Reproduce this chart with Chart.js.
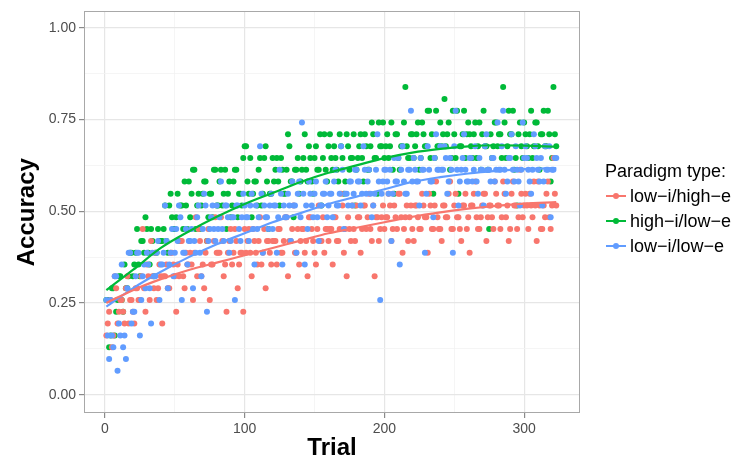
<!DOCTYPE html>
<html>
<head>
<meta charset="utf-8">
<script src="https://cdn.jsdelivr.net/npm/chart.js@4.4.1/dist/chart.umd.min.js"></script>
<style>
html,body{margin:0;padding:0;background:#fff;}
#wrap{width:747px;height:460px;}
</style>
</head>
<body>
<div id="wrap"><canvas id="c" width="747" height="460"></canvas></div>
<script>
// ---- data ----
const seriesNames = ["low\u2212i/high\u2212e", "high\u2212i/low\u2212e", "low\u2212i/low\u2212e"];
const seriesColors = ["#F8766D", "#00BA38", "#619CFF"];

const trialsOdd = [1,3,5,7,9,11,13,15,17,19,21,23,25,27,29,31,33,35,37,39,41,43,45,47,49,51,53,55,57,59,61,63,65,67,69,71,73,75,77,79,81,83,85,87,89,91,93,95,97,99,101,103,105,107,109,111,113,115,117,119,121,123,125,127,129,131,133,135,137,139,141,143,145,147,149,151,153,155,157,159,161,163,165,167,169,171,173,175,177,179,181,183,185,187,189,191,193,195,197,199,201,203,205,207,209,211,213,215,217,219,221,223,225,227,229,231,233,235,237,239,241,243,245,247,249,251,253,255,257,259,261,263,265,267,269,271,273,275,277,279,281,283,285,287,289,291,293,295,297,299,301,303,305,307,309,311,313,315,317,319,321,323];
const trialsEven = [2,4,6,8,10,12,14,16,18,20,22,24,26,28,30,32,34,36,38,40,42,44,46,48,50,52,54,56,58,60,62,64,66,68,70,72,74,76,78,80,82,84,86,88,90,92,94,96,98,100,102,104,106,108,110,112,114,116,118,120,122,124,126,128,130,132,134,136,138,140,142,144,146,148,150,152,154,156,158,160,162,164,166,168,170,172,174,176,178,180,182,184,186,188,190,192,194,196,198,200,202,204,206,208,210,212,214,216,218,220,222,224,226,228,230,232,234,236,238,240,242,244,246,248,250,252,254,256,258,260,262,264,266,268,270,272,274,276,278,280,282,284,286,288,290,292,294,296,298,300,302,304,306,308,310,312,314,316,318,320,322];

// low-i/high-e accuracy
const accLowIHighE_odd = [
.161,.226,.129,.323,.194,.258,.226,.290,.194,.258,
.194,.290,.258,.452,.226,.323,.419,.290,.258,.355,
.194,.323,.290,.387,.355,.226,.323,.419,.290,.355,
.387,.258,.484,.452,.323,.290,.419,.258,.355,.484,
.387,.484,.323,.226,.419,.355,.452,.290,.387,.226,
.387,.452,.323,.419,.355,.484,.387,.290,.419,.355,
.419,.355,.452,.387,.484,.323,.419,.516,.387,.355,
.452,.387,.323,.484,.419,.355,.516,.419,.387,.452,
.452,.355,.484,.419,.548,.387,.323,.452,.516,.419,
.484,.387,.516,.452,.548,.419,.323,.484,.452,.516,
.484,.548,.419,.516,.452,.548,.387,.484,.419,.516,
.419,.516,.452,.548,.484,.387,.516,.452,.581,.452,
.419,.516,.484,.581,.452,.548,.484,.419,.516,.452,
.387,.516,.581,.452,.484,.548,.419,.516,.484,.581,
.516,.452,.581,.484,.419,.548,.516,.452,.613,.484,
.548,.452,.516,.581,.419,.516,.452,.484,.581,.452,
.645,.516];
const accLowIHighE_even = [
.194,.258,.161,.290,.226,.258,.194,.323,.258,.226,
.290,.258,.323,.290,.355,.258,.323,.387,.290,.323,
.323,.355,.290,.387,.323,.355,.419,.323,.387,.355,
.355,.387,.323,.419,.355,.387,.452,.355,.419,.387,
.387,.419,.355,.387,.452,.387,.419,.355,.387,.452,
.419,.387,.452,.387,.419,.355,.452,.419,.387,.419,
.419,.452,.387,.419,.484,.419,.452,.387,.452,.419,
.452,.419,.484,.452,.387,.452,.419,.484,.452,.419,
.452,.484,.419,.452,.516,.452,.484,.419,.452,.516,
.484,.452,.516,.484,.452,.516,.484,.419,.484,.452,
.484,.516,.452,.484,.548,.484,.452,.516,.484,.452,
.516,.484,.452,.516,.484,.548,.452,.516,.484,.452,
.516,.484,.548,.452,.516,.484,.452,.516,.548,.484,
.516,.548,.484,.452,.516,.548,.484,.516,.452,.548,
.516,.484,.548,.516,.452,.581,.516,.484,.548,.516,
.516,.548,.484,.516,.581,.452,.516,.548,.484,.516,
.548];

// high-i/low-e accuracy
const accHighILowE_odd = [
.258,.129,.290,.161,.258,.323,.226,.290,.323,.387,
.355,.452,.323,.419,.484,.387,.452,.323,.387,.419,
.419,.516,.387,.548,.452,.484,.419,.516,.581,.452,
.484,.613,.452,.548,.516,.581,.419,.548,.484,.613,
.516,.613,.548,.452,.581,.516,.613,.484,.548,.645,
.677,.548,.484,.581,.516,.645,.548,.677,.452,.548,
.581,.645,.516,.613,.548,.710,.581,.484,.613,.548,
.613,.710,.581,.645,.548,.677,.613,.516,.710,.581,
.710,.613,.645,.581,.677,.548,.710,.613,.645,.516,
.645,.710,.581,.677,.613,.742,.645,.548,.677,.742,
.677,.645,.742,.548,.710,.613,.677,.839,.645,.710,
.645,.710,.613,.742,.677,.774,.645,.548,.774,.677,
.677,.806,.710,.613,.774,.645,.548,.677,.774,.710,
.710,.645,.742,.677,.613,.774,.677,.452,.645,.742,
.677,.710,.839,.645,.774,.710,.613,.516,.742,.645,
.710,.645,.774,.677,.742,.613,.710,.677,.774,.581,
.839,.677];
const accHighILowE_even = [
.258,.161,.290,.226,.323,.258,.355,.290,.387,.323,
.387,.355,.419,.387,.452,.355,.419,.387,.452,.419,
.452,.419,.516,.484,.452,.548,.516,.452,.516,.581,
.548,.613,.516,.452,.548,.581,.484,.548,.613,.516,
.581,.516,.613,.548,.484,.581,.613,.548,.516,.677,
.581,.645,.548,.581,.613,.516,.645,.581,.548,.645,
.613,.581,.645,.548,.613,.677,.581,.613,.645,.581,
.645,.613,.677,.581,.645,.613,.710,.645,.613,.677,
.645,.677,.613,.710,.645,.581,.677,.645,.710,.613,
.677,.645,.710,.613,.677,.710,.645,.742,.677,.645,
.710,.677,.613,.710,.645,.677,.742,.677,.645,.710,
.677,.742,.645,.710,.677,.774,.710,.645,.677,.742,
.710,.677,.742,.645,.710,.774,.677,.710,.645,.742,
.677,.710,.645,.742,.710,.677,.613,.710,.677,.742,
.710,.645,.742,.677,.710,.774,.645,.710,.677,.742,
.677,.710,.645,.742,.677,.710,.774,.677,.710,.645,
.710];

// low-i/low-e accuracy
const accLowILowE_odd = [
.258,.097,.161,.323,.065,.161,.129,.097,.387,.194,
.226,.387,.161,.323,.290,.355,.194,.323,.387,.258,
.355,.516,.290,.387,.323,.452,.516,.258,.387,.355,
.419,.290,.387,.516,.323,.548,.226,.452,.516,.419,
.452,.581,.419,.516,.387,.484,.258,.516,.419,.548,
.484,.419,.548,.355,.452,.677,.387,.484,.452,.548,
.516,.387,.613,.355,.484,.548,.419,.516,.387,.581,
.742,.355,.452,.548,.484,.581,.419,.516,.548,.484,
.548,.484,.613,.516,.677,.452,.548,.581,.516,.613,
.581,.516,.677,.548,.613,.484,.548,.710,.258,.581,
.613,.548,.419,.645,.581,.355,.677,.548,.613,.774,
.645,.581,.516,.613,.387,.677,.581,.484,.710,.613,
.613,.677,.548,.645,.387,.774,.516,.613,.710,.581,
.645,.581,.677,.548,.613,.516,.710,.613,.645,.581,
.742,.613,.774,.548,.645,.710,.581,.613,.516,.742,
.677,.613,.548,.710,.645,.581,.516,.677,.613,.484,
.613,.645];
const accLowILowE_even = [
.161,.258,.129,.323,.194,.355,.161,.290,.387,.226,
.323,.387,.258,.355,.387,.290,.387,.323,.419,.355,
.387,.419,.355,.452,.387,.419,.484,.387,.452,.419,
.452,.419,.484,.387,.452,.516,.419,.484,.452,.516,
.484,.452,.516,.484,.419,.484,.516,.452,.484,.516,
.484,.516,.452,.516,.484,.548,.516,.484,.516,.452,
.516,.484,.548,.516,.484,.516,.581,.516,.548,.484,
.548,.516,.581,.516,.548,.484,.516,.548,.581,.516,
.548,.581,.516,.548,.613,.548,.516,.581,.548,.613,
.581,.548,.613,.581,.548,.516,.613,.581,.548,.613,
.581,.613,.548,.581,.645,.613,.581,.548,.613,.581,
.613,.581,.645,.613,.548,.613,.581,.645,.613,.677,
.613,.645,.581,.613,.677,.613,.581,.645,.613,.581,
.645,.613,.581,.645,.613,.677,.613,.581,.645,.613,
.613,.677,.613,.581,.645,.613,.677,.581,.613,.645,
.645,.581,.613,.677,.613,.645,.581,.613,.677,.613,
.645];

// smooth (loess-like) curves, read at these trials
const smoothTrials = [1,20,40,60,80,100,120,140,160,180,200,220,240,260,280,300,323];
const smoothLowIHighE = [.250,.285,.315,.340,.360,.380,.400,.420,.440,.455,.470,.485,.497,.507,.515,.521,.525];
const smoothHighILowE = [.285,.340,.400,.445,.485,.520,.550,.580,.605,.625,.645,.660,.670,.677,.680,.679,.676];
const smoothLowILowE  = [.240,.290,.335,.375,.410,.440,.470,.495,.520,.540,.560,.580,.593,.603,.610,.615,.618];

const xTickValues = [0,50,100,150,200,250,300];
const yTickValues = [0,0.125,0.25,0.375,0.5,0.625,0.75,0.875,1];

// ---- build datasets ----
function pts(xs, ys){ return xs.map((x,i)=>({x:x, y:ys[i]})); }
const pointSets = [
  pts(trialsOdd, accLowIHighE_odd).concat(pts(trialsEven, accLowIHighE_even)),
  pts(trialsOdd, accHighILowE_odd).concat(pts(trialsEven, accHighILowE_even)),
  pts(trialsOdd, accLowILowE_odd).concat(pts(trialsEven, accLowILowE_even))
];
const smoothSets = [smoothLowIHighE, smoothHighILowE, smoothLowILowE];
const pointOrder = [2, 3, 1];

const datasets = [];
for (let s = 0; s < 3; s++) {
  datasets.push({
    label: seriesNames[s] + " smooth",
    data: pts(smoothTrials, smoothSets[s]),
    showLine: true,
    borderColor: seriesColors[s],
    borderWidth: 2.2,
    pointRadius: 0,
    tension: 0.4,
    cubicInterpolationMode: 'monotone',
    order: 0
  });
  datasets.push({
    label: seriesNames[s],
    data: pointSets[s],
    showLine: false,
    backgroundColor: seriesColors[s],
    borderWidth: 0,
    pointRadius: 3,
    pointHoverRadius: 3,
    order: pointOrder[s]
  });
}

const FONT = "'Liberation Sans', Arial, Helvetica, sans-serif";
const isMajorX = v => Math.abs(v % 100) < 1e-6;
const isMajorY = v => Math.abs(v / 0.25 - Math.round(v / 0.25)) < 1e-6;

const panelAndLegend = {
  id: 'panelAndLegend',
  afterDraw(chart) {
    const {ctx, chartArea: a} = chart;
    ctx.save();
    ctx.strokeStyle = '#a8a8a8';
    ctx.lineWidth = 1;
    ctx.strokeRect(Math.round(a.left) + 0.5, Math.round(a.top) + 0.5, Math.round(a.right - a.left) - 1, Math.round(a.bottom - a.top) - 1);
    // legend
    ctx.fillStyle = '#000';
    ctx.font = "18px " + FONT;
    ctx.textBaseline = 'middle';
    ctx.textAlign = 'left';
    ctx.fillText("Paradigm type:", 605, 172);
    const ys = [196, 221, 246];
    for (let s = 0; s < 3; s++) {
      ctx.strokeStyle = seriesColors[s];
      ctx.lineWidth = 2;
      ctx.beginPath(); ctx.moveTo(606, ys[s]); ctx.lineTo(626, ys[s]); ctx.stroke();
      ctx.fillStyle = seriesColors[s];
      ctx.beginPath(); ctx.arc(616, ys[s], 3, 0, Math.PI * 2); ctx.fill();
      ctx.fillStyle = '#000';
      ctx.fillText(seriesNames[s], 630, ys[s] + 1);
    }
    ctx.restore();
  }
};

new Chart(document.getElementById('c'), {
  type: 'scatter',
  data: { datasets },
  options: {
    responsive: false,
    animation: false,
    devicePixelRatio: 1,
    layout: { padding: { top: 10, right: 167, bottom: 0, left: 0 } },
    plugins: { legend: { display: false }, tooltip: { enabled: false } },
    scales: {
      x: {
        type: 'linear', min: -15, max: 340,
        afterBuildTicks: sc => { sc.ticks = xTickValues.map(v => ({value: v})); },
        afterFit: sc => { sc.height = 47; },
        grid: {
          color: c => isMajorX(c.tick.value) ? '#e6e6e6' : '#f3f3f3',
          lineWidth: c => isMajorX(c.tick.value) ? 1.2 : 0.8,
          tickColor: c => isMajorX(c.tick.value) ? '#8a8a8a' : 'rgba(0,0,0,0)',
          tickLength: 5, drawTicks: true
        },
        border: { display: false },
        ticks: {
          autoSkip: false, maxRotation: 0, padding: 3,
          color: '#4d4d4d', font: { family: FONT, size: 14 },
          callback: v => isMajorX(v) ? String(v) : ''
        },
        title: { display: true, text: 'Trial', color: '#000', font: { family: FONT, size: 24, weight: 'bold', lineHeight: 1 }, padding: { top: 0, bottom: 0 } }
      },
      y: {
        type: 'linear', min: -0.05, max: 1.045,
        afterBuildTicks: sc => { sc.ticks = yTickValues.map(v => ({value: v})); },
        afterFit: sc => { sc.width = 84; },
        grid: {
          color: c => isMajorY(c.tick.value) ? '#e6e6e6' : '#f3f3f3',
          lineWidth: c => isMajorY(c.tick.value) ? 1.2 : 0.8,
          tickColor: c => isMajorY(c.tick.value) ? '#8a8a8a' : 'rgba(0,0,0,0)',
          tickLength: 5, drawTicks: true
        },
        border: { display: false },
        ticks: {
          autoSkip: false, padding: 3,
          color: '#4d4d4d', font: { family: FONT, size: 14 },
          callback: v => isMajorY(v) ? v.toFixed(2) : ''
        },
        title: { display: true, text: 'Accuracy', color: '#000', font: { family: FONT, size: 24, weight: 'bold', lineHeight: 1 }, padding: { top: 15, bottom: 0 } }
      }
    }
  },
  plugins: [panelAndLegend]
});
</script>
</body>
</html>
